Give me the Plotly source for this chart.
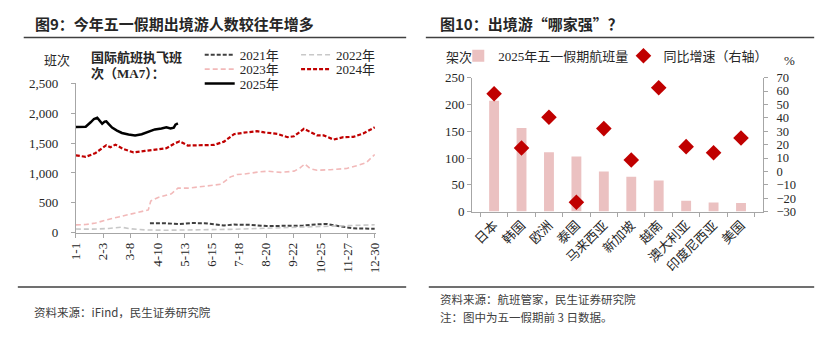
import plotly.graph_objects as go

W, H = 831, 341


def px(x):
    return x / W


def py(y):
    return 1 - y / H


SERIF = "Liberation Serif, Noto Sans CJK SC"
SANS = "Noto Sans CJK SC"
TXT = "#262626"
AX = "#A6A6A6"

# ---------------- Left chart data (day index of year -> flights, MA7) -------------
tick_labels_left = ["1-1", "2-3", "3-8", "4-10", "5-13", "6-15", "7-18", "8-20",
                    "9-22", "10-25", "11-27", "12-30"]

days_2021 = [90, 108, 126, 140, 156, 168, 180, 192, 212, 232, 250, 276, 293, 305, 321, 337, 363]
vals_2021 = [155, 158, 143, 160, 158, 145, 120, 135, 130, 110, 112, 118, 138, 145, 105, 72, 65]

days_2022 = [0, 20, 40, 55, 68, 84, 110, 130, 156, 188, 229, 269, 309, 329, 345, 363]
vals_2022 = [60, 58, 70, 90, 62, 45, 40, 42, 50, 55, 72, 88, 100, 118, 125, 132]

days_2023 = [0, 12, 24, 36, 52, 68, 83, 88, 91, 100, 116, 124, 136, 148, 164, 176, 188,
             196, 204, 221, 233, 249, 265, 272, 278, 285, 293, 309, 329, 341, 353, 363]
vals_2023 = [130, 135, 160, 210, 263, 315, 360, 380, 530, 590, 650, 745, 745, 760, 790, 810, 935,
             975, 980, 1015, 1030, 1010, 1030, 1080, 1150, 1070, 1045, 1055, 1075, 1120, 1175, 1310]

days_2024 = [0, 6, 12, 24, 32, 37, 42, 48, 58, 70, 84, 96, 110, 120, 126, 136, 152, 168, 180,
             192, 204, 220, 229, 245, 257, 265, 277, 285, 293, 301, 313, 325, 337, 349, 363]
vals_2024 = [1295, 1280, 1270, 1335, 1415, 1465, 1430, 1475, 1400, 1345, 1370, 1385, 1415, 1495,
             1530, 1460, 1460, 1470, 1525, 1650, 1675, 1700, 1680, 1655, 1600, 1615, 1740, 1685,
             1630, 1630, 1560, 1600, 1605, 1660, 1765]

days_2025 = [0, 6, 12, 18, 22, 26, 29, 32, 35, 37, 40, 44, 50, 56, 64, 72, 80, 88, 96, 104,
             110, 115, 119, 121, 124]
vals_2025 = [1770, 1768, 1775, 1850, 1905, 1925, 1870, 1825, 1860, 1865, 1820, 1760, 1710, 1670,
             1645, 1630, 1650, 1690, 1730, 1745, 1765, 1745, 1760, 1810, 1830]

# ---------------- Right chart data -------------
countries = ["日本", "韩国", "欧洲", "泰国", "马来西亚", "新加坡", "越南", "澳大利亚", "印度尼西亚", "美国"]
flights_2025 = [207, 156, 111, 103, 75, 65, 58, 20, 17, 16]
yoy_growth = [58, 17.5, 40.5, -23, 32, 8.5, 62.5, 18.5, 14, 25]

fig = go.Figure()

left_series = [
    ("2021年", days_2021, vals_2021, dict(color="#404040", width=2, dash="4px,2px"), "legend"),
    ("2022年", days_2022, vals_2022, dict(color="#C8C8C8", width=1.6, dash="5px,3px"), "legend2"),
    ("2023年", days_2023, vals_2023, dict(color="#F2B9B9", width=1.6, dash="5px,3px"), "legend3"),
    ("2024年", days_2024, vals_2024, dict(color="#C00000", width=2.2, dash="4px,2px"), "legend4"),
    ("2025年", days_2025, vals_2025, dict(color="#000000", width=2.5), "legend5"),
]
for name, xs, ys, line, lg in left_series:
    fig.add_trace(go.Scatter(x=xs, y=ys, mode="lines", name=name, line=line,
                             xaxis="x", yaxis="y", legend=lg, hoverinfo="skip",
                             showlegend=True))

fig.add_trace(go.Bar(x=countries, y=flights_2025, name="2025年五一假期航班量",
                     marker=dict(color="#EBC1C1", line=dict(width=0)),
                     xaxis="x2", yaxis="y2", legend="legend6", hoverinfo="skip",
                     showlegend=True))
fig.add_trace(go.Scatter(x=countries, y=yoy_growth, mode="markers", name="同比增速（右轴）",
                         marker=dict(symbol="diamond", size=12, color="#C00000"),
                         xaxis="x2", yaxis="y3", legend="legend7", hoverinfo="skip",
                         showlegend=True))

tick_step = 33
tickvals_left = [i * tick_step for i in range(len(tick_labels_left))]

axis_font = dict(family=SERIF, size=13, color=TXT)
axis_font_r = dict(family=SERIF, size=12.5, color=TXT)


def leg(x, y):
    return dict(x=px(x), y=py(y), xanchor="left", yanchor="middle", orientation="h",
                bgcolor="rgba(0,0,0,0)", borderwidth=0, itemwidth=30, visible=True,
                font=dict(family=SERIF, size=13, color=TXT), tracegroupgap=0)


fig.update_layout(
    width=W, height=H, margin=dict(l=0, r=0, t=0, b=0),
    paper_bgcolor="white", plot_bgcolor="white", showlegend=True,
    barmode="overlay", bargap=0.64,
    xaxis=dict(domain=[px(69), px(373.8)], range=[0, 364], tickvals=tickvals_left,
               ticktext=tick_labels_left, tickangle=-90, tickfont=axis_font,
               showline=True, linecolor=AX, linewidth=1, ticks="outside", ticklen=4,
               tickcolor=AX, showgrid=False, zeroline=False, anchor="y"),
    yaxis=dict(domain=[py(236), py(80)], range=[0, 2500], dtick=500, tickformat=",",
               tickfont=axis_font, showline=True, linecolor=AX, linewidth=1,
               ticks="outside", ticklen=4, tickcolor=AX, showgrid=False, zeroline=False,
               anchor="x", ticklabelstandoff=10),
    xaxis2=dict(domain=[px(472), px(768)], tickangle=-45, tickfont=axis_font,
                showline=True, linecolor=AX, linewidth=1, ticks="outside", ticklen=4,
                tickcolor=AX, tickson="boundaries", showgrid=False, zeroline=False,
                anchor="y2"),
    yaxis2=dict(domain=[py(214), py(74)], range=[0, 250], dtick=50, tickfont=axis_font,
                showline=True, linecolor=AX, linewidth=1, ticks="outside", ticklen=4,
                tickcolor=AX, showgrid=False, zeroline=False, anchor="x2"),
    yaxis3=dict(overlaying="y2", side="right", anchor="x2", range=[-30, 70], dtick=10,
                tickfont=axis_font_r, showline=True, linecolor=AX, linewidth=1,
                ticks="outside", ticklen=4, tickcolor=AX, showgrid=False, zeroline=False,
                ticklabelstandoff=6),
    legend=leg(195, 50), legend2=leg(293, 50), legend3=leg(195, 65),
    legend4=leg(293, 65), legend5=leg(195, 80), legend6=leg(458, 51),
    legend7=leg(626, 51),
)

annotations = [
    dict(x=px(25), y=py(17), text="<b>图9：今年五一假期出境游人数较往年增多</b>",
         font=dict(family=SANS, size=15, color=TXT)),
    dict(x=px(437), y=py(17), text="<b>图10：出境游“哪家强”？</b>",
         font=dict(family=SANS, size=15, color=TXT)),
    dict(x=px(35), y=py(56), text="班次", font=dict(family=SERIF, size=13, color=TXT)),
    dict(x=px(82), y=py(53), text="<b>国际航班执飞班</b>", font=dict(family=SERIF, size=13, color=TXT)),
    dict(x=px(82), y=py(70), text="<b>次（MA7）：</b>", font=dict(family=SERIF, size=13, color=TXT)),
    dict(x=px(443), y=py(53), text="架次", font=dict(family=SERIF, size=13, color=TXT)),
    dict(x=px(787), y=py(56), text="%", font=dict(family=SERIF, size=13, color=TXT)),
    dict(x=px(24), y=py(319), text="资料来源：iFind，民生证券研究院",
         font=dict(family=SANS, size=11.5, color="#404040")),
    dict(x=px(437), y=py(305), text="资料来源：航班管家，民生证券研究院",
         font=dict(family=SANS, size=11.5, color="#404040")),
    dict(x=px(437), y=py(324), text="注：图中为五一假期前 3 日数据。",
         font=dict(family=SANS, size=11.5, color="#404040")),
]
for a in annotations:
    a.update(xref="paper", yref="paper", xanchor="left", yanchor="middle", showarrow=False)
fig.update_layout(annotations=annotations)

rules = [(16, 405, 32), (425, 820, 32), (10, 405, 293), (428, 820, 293)]
fig.update_layout(shapes=[
    dict(type="line", xref="paper", yref="paper", x0=px(a), x1=px(b), y0=py(y), y1=py(y),
         line=dict(color="#404040", width=1.5)) for a, b, y in rules
])

fig.write_html("out.html")
